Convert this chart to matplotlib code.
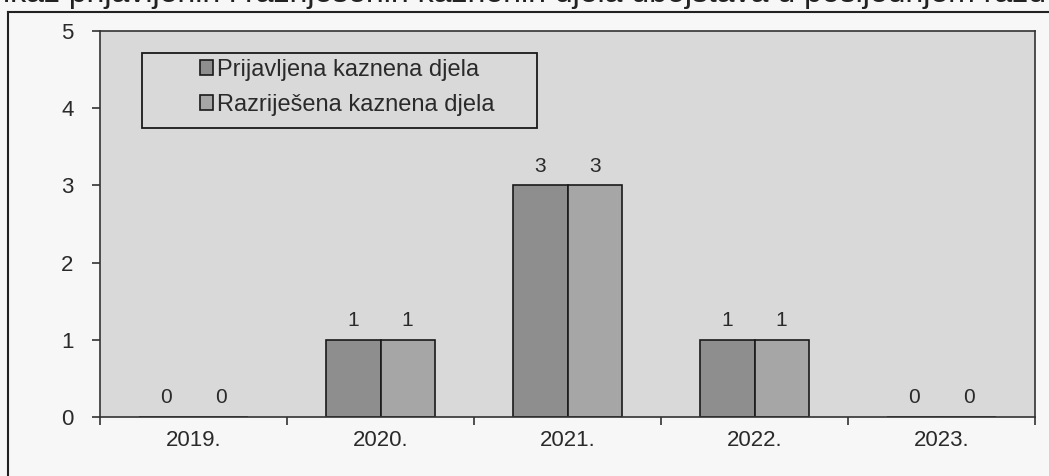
import numpy as np
import matplotlib
matplotlib.use("Agg")
import matplotlib.pyplot as plt
from matplotlib.lines import Line2D
from matplotlib.patches import Rectangle

plt.rcParams['font.family'] = ['Liberation Sans', 'DejaVu Sans']

years = ["2019.", "2020.", "2021.", "2022.", "2023."]
prijavljena = [0, 1, 3, 1, 0]
razrijesena = [0, 1, 3, 1, 0]
series_names = ["Prijavljena kaznena djela", "Razriješena kaznena djela"]
title_text = "Prikaz prijavljenih i razriješenih kaznenih djela ubojstava u posljednjem razdoblju"

fig = plt.figure(figsize=(10.49, 4.76), dpi=100, facecolor="#f7f7f7")
ax = fig.add_axes([100/1049, 1 - 417/476, 935/1049, 386/476])
ax.set_facecolor("#d9d9d9")

x = np.arange(len(years))
w = 0.29
b1 = ax.bar(x - w/2, prijavljena, w, color="#8e8e8e", edgecolor="#1a1a1a", linewidth=1.2,
            label=series_names[0])
b2 = ax.bar(x + w/2, razrijesena, w, color="#a6a6a6", edgecolor="#1a1a1a", linewidth=1.2,
            label=series_names[1])

for bars in (b1, b2):
    for r in bars:
        ax.annotate(str(int(r.get_height())), xy=(r.get_x() + r.get_width()/2, r.get_height()),
                    xytext=(0, 7), textcoords="offset points", ha="center", va="bottom",
                    fontsize=15, color="#2a2a2a")

ax.set_xlim(-0.5, len(years) - 0.5)
ax.set_ylim(0, 5)
ax.set_yticks(range(6))
ax.set_xticks(x)
ax.set_xticklabels(years)
ax.set_xticks(np.arange(-0.5, len(years)), minor=True)
ax.tick_params(axis="x", which="major", length=0, pad=9, labelsize=16, labelcolor="#2a2a2a")
ax.tick_params(axis="x", which="minor", length=6, width=1.2, direction="out", color="#333333")
ax.tick_params(axis="y", length=6, width=1.2, direction="out", pad=13, labelsize=16,
               labelcolor="#2a2a2a", color="#333333")
for s in ax.spines.values():
    s.set_color("#333333")
    s.set_linewidth(1.2)

# legend box drawn separately, entries sit off-centre inside it as in the scan
ax.add_patch(Rectangle((0.0449, 0.7487), 0.4225, 0.1943, transform=ax.transAxes,
                       facecolor="#d9d9d9", edgecolor="#1a1a1a", linewidth=1.3, zorder=4))
leg = ax.legend(loc="upper left", bbox_to_anchor=(0.107, 0.928), fontsize=17,
                frameon=False, handlelength=0.55, handleheight=0.55, handletextpad=0.15,
                borderpad=0, labelspacing=0.55, borderaxespad=0)
leg.set_zorder(5)
for t in leg.get_texts():
    t.set_color("#2a2a2a")

# outer chart frame (left and top edges visible in the scan)
fig.add_artist(Line2D([8/1049, 8/1049], [0, 1 - 12/476], transform=fig.transFigure,
                      color="#222222", linewidth=1.5))
fig.add_artist(Line2D([8/1049, 1], [1 - 12/476, 1 - 12/476], transform=fig.transFigure,
                      color="#222222", linewidth=1.5))

# caption line above, cut off by the crop
fig.text(-0.028, 1.012, title_text, fontsize=23, ha="left", va="center", color="#222222")

fig.savefig("out.png", dpi=100, facecolor=fig.get_facecolor())
